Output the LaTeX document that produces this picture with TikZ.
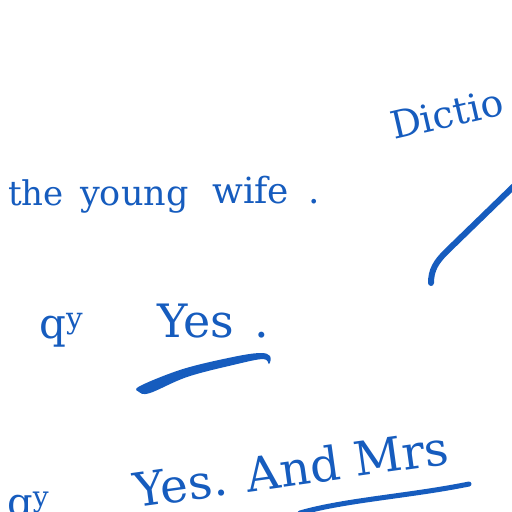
\documentclass[tikz,border=0pt]{standalone}
\usepackage{fontspec}
\setmainfont{DejaVu Serif}
\usepackage{xcolor}
\usepackage{tikz}
\definecolor{ink}{RGB}{22,92,190}
\tikzset{word/.style={anchor=base west, inner sep=0pt, text=ink}}

\begin{document}
\begin{tikzpicture}[x=1pt, y=-1pt]
        \useasboundingbox (0,0) rectangle (512,512);
        \clip (0,0) rectangle (512,512);

        % top line
        \node[word, font=\fontsize{34}{36}\selectfont] (the) at (8,205) {the};
        \node[word, font=\fontsize{35}{37}\selectfont] (young) at (80,205) {young};
        \node[word, font=\fontsize{36}{38}\selectfont] (wife) at (212,203) {wife};
        \node[word, font=\fontsize{36}{38}\selectfont] (dotA) at (308,203) {.};

        % heading, cut by the page edge
        \node[word, rotate=13, font=\fontsize{38}{40}\selectfont] (dict) at (394,140) {Dictio};

        % middle line
        \node[word, font=\fontsize{42}{44}\selectfont] (qA) at (39,338) {q\textsuperscript{y}};
        \node[word, font=\fontsize{46}{48}\selectfont] (yesA) at (157,337) {Yes};
        \node[word, font=\fontsize{46}{48}\selectfont] (dotB) at (254,337) {.};

        % bottom line
        \node[word, font=\fontsize{40}{42}\selectfont] (qB) at (7,516) {q\textsuperscript{y}};
        \node[word, rotate=8, font=\fontsize{47}{49}\selectfont] (yesB) at (136,508) {Yes. And Mrs};

        % pen strokes
        \fill[ink] plot[smooth cycle, tension=0.6] coordinates {
            (140,386) (183,369) (233,357) (260,353) (270,356) (269,364)
            (263,359) (233,365) (187,377) (150,393) (139,392)};
        \draw[ink, line width=6pt, line cap=round]
            (431,283) .. controls (431,270) and (436,262) .. (446,252) -- (514,186);
        \draw[ink, line width=5pt, line cap=round]
            (300,513) .. controls (345,500) and (410,496) .. (469,484);
\end{tikzpicture}
\end{document}
